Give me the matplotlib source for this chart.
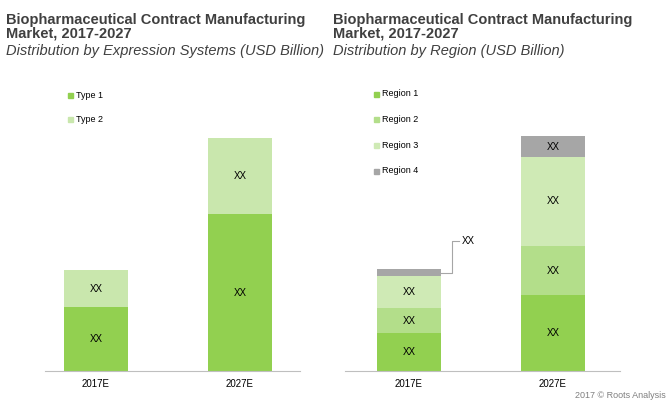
import matplotlib
matplotlib.use("Agg")
import matplotlib.pyplot as plt
from matplotlib.patches import Patch

plt.rcParams['font.family'] = ['Liberation Sans', 'DejaVu Sans']

years = ["2017E", "2027E"]
type1 = [64, 157]
type2 = [37, 76]
region1 = [38, 76]
region2 = [25, 49]
region3 = [32, 89]
region4 = [7, 21]
labels_val = "XX"

W, H = 672, 404
fig = plt.figure(figsize=(6.72, 4.04), dpi=100)

def ax_at(x0, x1):
    return fig.add_axes([x0 / W, (H - 371) / H, (x1 - x0) / W, 311 / H])

c_t1, c_t2 = "#92d050", "#c9e7ad"
c_r1, c_r2, c_r3, c_r4 = "#92d050", "#b3de8a", "#cfeab5", "#a6a6a6"
bw = 64 / 144

def style(ax, xl):
    ax.set_xlim(*xl)
    ax.set_ylim(0, 311)
    for s in ["top", "right", "left"]:
        ax.spines[s].set_visible(False)
    ax.spines["bottom"].set_color("#bfbfbf")
    ax.set_yticks([])
    ax.set_xticks([0, 1])
    ax.set_xticklabels(years, fontsize=7)
    ax.tick_params(axis="x", length=0, pad=6)

def stack(ax, series, colors):
    bottom = [0, 0]
    for vals, col in zip(series, colors):
        ax.bar([0, 1], vals, bottom=bottom, width=bw, color=col)
        for i in range(2):
            if vals[i] > 15:
                ax.text(i, bottom[i] + vals[i] / 2, labels_val, ha="center", va="center", fontsize=7)
        bottom = [b + v for b, v in zip(bottom, vals)]
    return bottom

axL = ax_at(45, 300)
style(axL, (-51 / 144, 1 + 60 / 144))
stack(axL, [type1, type2], [c_t1, c_t2])

axR = ax_at(345, 620)
style(axR, (-64 / 144, 1 + 67 / 144))
tot = stack(axR, [region1, region2, region3, region4], [c_r1, c_r2, c_r3, c_r4])
y4 = tot[0] - region4[0] / 2
axR.plot([bw / 2, 0.3, 0.3, 0.35], [y4, y4, 371 - 241, 371 - 241], color="#a6a6a6", lw=0.8)
axR.text(0.37, 371 - 241, labels_val, va="center", fontsize=7)

def legend(x, ys, names, cols):
    for y, n, c in zip(ys, names, cols):
        fig.patches.append(plt.Rectangle((x / W, 1 - (y + 2.5) / H), 5 / W, 5 / H,
                                         transform=fig.transFigure, color=c))
        fig.text((x + 8) / W, 1 - y / H, n, fontsize=6.5, va="center")

legend(68, [95, 119], ["Type 1", "Type 2"], [c_t1, c_t2])
legend(374, [94, 119, 145, 171], ["Region 1", "Region 2", "Region 3", "Region 4"], [c_r1, c_r2, c_r3, c_r4])

for x, sub in [(6, "Distribution by Expression Systems (USD Billion)"), (333, "Distribution by Region (USD Billion)")]:
    fig.text(x / W, 1 - 27 / H, "Biopharmaceutical Contract Manufacturing\nMarket, 2017-2027",
             fontsize=10.5, fontweight="bold", color="#404040", va="center", linespacing=1.0)
    fig.text(x / W, 1 - 51 / H, sub, fontsize=10.5, style="italic", color="#404040", va="center")

fig.text(666 / W, 1 - 396 / H, "2017 © Roots Analysis", fontsize=6.5, color="#808080", ha="right", va="center")
fig.savefig("out.png", dpi=100)
